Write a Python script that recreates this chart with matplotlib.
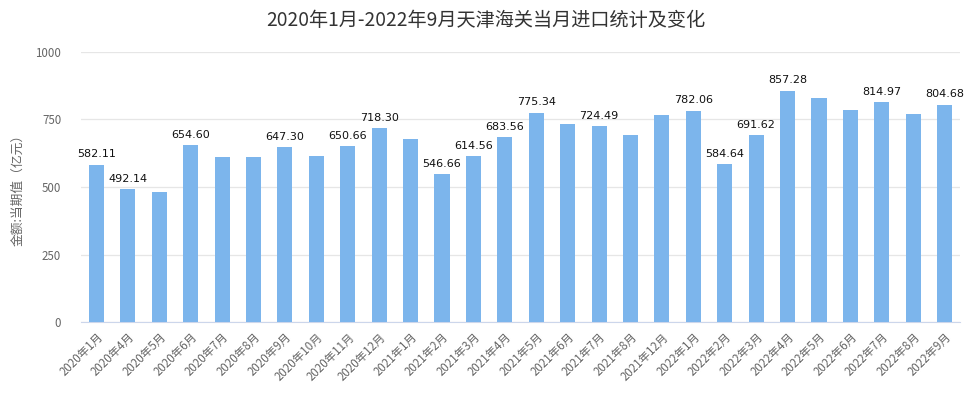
import numpy as np
import matplotlib.pyplot as plt

plt.rcParams['font.family'] = ['Noto Sans CJK SC', 'DejaVu Sans']

months = ['2020年1月', '2020年4月', '2020年5月', '2020年6月', '2020年7月', '2020年8月',
          '2020年9月', '2020年10月', '2020年11月', '2020年12月', '2021年1月', '2021年2月',
          '2021年3月', '2021年4月', '2021年5月', '2021年6月', '2021年7月', '2021年8月',
          '2021年12月', '2022年1月', '2022年2月', '2022年3月', '2022年4月', '2022年5月',
          '2022年6月', '2022年7月', '2022年8月', '2022年9月']
values = [582.11, 492.14, 483.0, 654.60, 610.0, 610.0,
          647.30, 616.0, 650.66, 718.30, 679.0, 546.66,
          614.56, 683.56, 775.34, 734.6, 724.49, 694.0,
          768.0, 782.06, 584.64, 691.62, 857.28, 831.0,
          786.0, 814.97, 772.0, 804.68]
# labels the original chart actually shows (others hidden by overlap)
shown = [0, 1, 3, 6, 8, 9, 11, 12, 13, 14, 16, 19, 20, 21, 22, 25, 27]

fig = plt.figure(figsize=(9.72, 4.0), dpi=100)
ax = fig.add_axes([0.083, 0.195, 0.905, 0.675])

x = np.arange(len(months))
ax.bar(x, values, width=0.48, color='#7cb5ec', zorder=3)

for i in shown:
    ax.text(x[i], values[i] + 20, f'{values[i]:.2f}', ha='center', va='bottom',
            fontsize=8, family='DejaVu Sans', color='#111111', zorder=4)

ax.set_xlim(-0.5, len(months) - 0.5)
ax.set_ylim(0, 1000)
ax.set_yticks([0, 250, 500, 750, 1000])
ax.yaxis.grid(True, color='#e6e6e6', linewidth=0.9, zorder=0)
ax.tick_params(axis='y', length=0, labelsize=8.3, labelcolor='#666666', pad=14)
ax.set_xticks(x)
ax.set_xticklabels(months, rotation=45, ha='right', rotation_mode='anchor',
                   fontsize=8.3, color='#666666')
ax.tick_params(axis='x', length=0, pad=6)

for s in ['top', 'right', 'left']:
    ax.spines[s].set_visible(False)
ax.spines['bottom'].set_color('#ccd6eb')

ax.set_ylabel('金额:当期值（亿元）', fontsize=9.2, color='#666666', labelpad=8)
fig.suptitle('2020年1月-2022年9月天津海关当月进口统计及变化', fontsize=13.8,
             color='#333333', y=0.975)

fig.savefig('out.png', dpi=100)
